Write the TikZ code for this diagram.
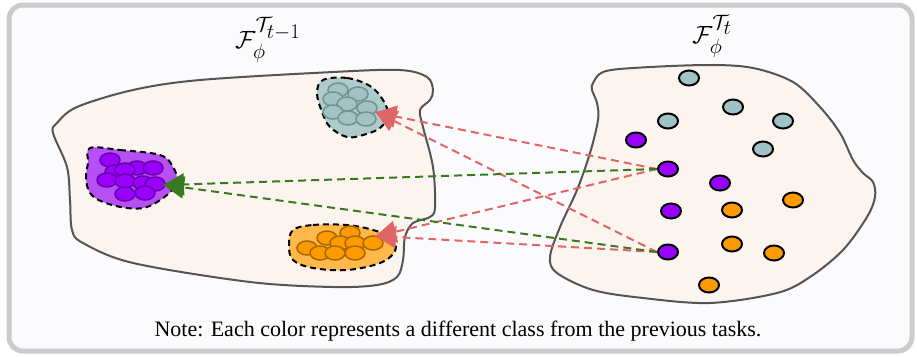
\documentclass[tikz,border=0pt]{standalone}
\usepackage{amsmath}
\usepackage{fontspec}
\setmainfont{Liberation Serif}
\usetikzlibrary{arrows.meta, shapes.geometric}

\definecolor{framegray}{HTML}{CCCCCC}
\definecolor{framefill}{HTML}{FBFBFD}
\definecolor{blobfill}{HTML}{FCF4EE}
\definecolor{blobline}{HTML}{555555}
\definecolor{cgray}{HTML}{A2C3C6}
\definecolor{cgrayedge}{HTML}{729294}
\definecolor{cgrayhull}{HTML}{AECBCC}
\definecolor{cpurple}{HTML}{9A00FF}
\definecolor{cpurpleedge}{HTML}{6A00AA}
\definecolor{cpurplehull}{HTML}{B650F5}
\definecolor{corange}{HTML}{FF9A00}
\definecolor{corangeedge}{HTML}{A86800}
\definecolor{corangehull}{HTML}{FFB84A}
\definecolor{arrred}{HTML}{E06666}
\definecolor{arrgreen}{HTML}{3A7A1E}

\tikzset{
  frame/.style = {draw=framegray, fill=framefill, line width=5pt, rounded corners=14pt},
  blob/.style = {draw=blobline, fill=blobfill, line width=2pt},
  hull/.style = {draw=black, line width=2pt, dash pattern=on 6pt off 4pt},
  dot/.style = {ellipse, inner sep=0pt, minimum width=20pt, minimum height=15pt, line width=2pt, draw=black},
  gdot/.style = {dot, fill=cgray},
  pdot/.style = {dot, fill=cpurple},
  odot/.style = {dot, fill=corange},
  cdot/.style = {ellipse, inner sep=0pt, minimum width=20pt, minimum height=14pt, line width=1.5pt},
  redarr/.style = {draw=arrred, line width=2pt, dash pattern=on 8pt off 5pt,
    -{Triangle[length=21pt, width=22pt, sep=-3pt]}},
  greenarr/.style = {draw=arrgreen, line width=2pt, dash pattern=on 8pt off 5pt,
    -{Triangle[length=21pt, width=22pt, sep=-3pt]}},
  title/.style = {font=\fontsize{28}{32}\selectfont}
}

\begin{document}
\begin{tikzpicture}[x=1pt, y=-1pt]
\useasboundingbox (0,0) rectangle (917,356);
\draw [frame] (9,5) rectangle (912,351);

\node [title] (oldspace) at (268,40) {$\mathcal{F}_{\phi}^{\mathcal{T}_{\scriptstyle t-1}}$};
\node [title] (newspace) at (712,36) {$\mathcal{F}_{\phi}^{\mathcal{T}_{\scriptstyle t}}$};

\draw [blob] plot [smooth cycle, tension=0.55] coordinates {
  (53,133) (67,167) (70,200) (72,230) (83,243) (133,263) (250,282) (333,287)
  (377,285) (397,277) (403,260) (405,237) (413,223) (430,217) (435,207)
  (433,167) (423,127) (420,110) (430,100) (433,90) (427,77) (400,70)
  (333,72) (200,80) (133,90) (77,107) (57,123)};
\draw [blob] plot [smooth cycle, tension=0.55] coordinates {
  (593,83) (603,72) (633,68) (707,65) (753,68) (793,82) (820,107) (840,133)
  (853,160) (863,173) (873,182) (875,197) (867,217) (843,250) (810,277)
  (777,293) (710,303) (643,298) (593,290) (557,273) (550,257) (560,227)
  (577,190) (590,153) (598,120) (597,103) (592,90)};

\draw [hull, fill=cgrayhull] plot [smooth cycle, tension=0.6] coordinates {
  (323,80) (347,78) (370,86) (383,100) (388,115) (380,128) (363,135)
  (347,137) (330,127) (322,112) (317,93)};
\foreach \p in {(338,90),(358,94),(333,99),(347,104),(367,108),(333,112),(348,118),(366,119)}
  \node [cdot, draw=cgrayedge, fill=cgray] at \p {};

\draw [hull, fill=cpurplehull] plot [smooth cycle, tension=0.6] coordinates {
  (90,148) (120,150) (160,155) (173,167) (177,182) (167,195) (147,207)
  (127,208) (103,202) (90,193) (86,178) (88,163)};
\foreach \p in {(110,160),(115,172),(107,180),(137,168),(125,170),(153,168),(125,181),(143,183),(155,184),(125,194),(145,193)}
  \node [cdot, draw=cpurpleedge, fill=cpurple] at \p {};

\draw [hull, fill=corangehull] plot [smooth cycle, tension=0.6] coordinates {
  (293,230) (313,225) (347,225) (373,230) (392,238) (395,251) (380,263)
  (347,270) (313,268) (293,260) (289,245)};
\foreach \p in {(327,238),(350,233),(307,248),(340,243),(355,243),(320,253),(335,253),(355,253),(373,243)}
  \node [cdot, draw=corangeedge, fill=corange] at \p {};

\coordinate (tipgray) at (378,113);
\coordinate (tippurple) at (166,185);
\coordinate (tiporange) at (378,236);

\node [gdot] (g1) at (689,78) {};
\node [gdot] (g2) at (733,107) {};
\node [gdot] (g3) at (668,121) {};
\node [gdot] (g4) at (783,121) {};
\node [gdot] (g5) at (763,149) {};
\node [pdot] (p1) at (636,140) {};
\node [pdot] (p2) at (668,169) {};
\node [pdot] (p3) at (720,183) {};
\node [pdot] (p4) at (671,211) {};
\node [pdot] (p5) at (668,252) {};
\node [odot] (o1) at (793,200) {};
\node [odot] (o2) at (732,210) {};
\node [odot] (o3) at (732,244) {};
\node [odot] (o4) at (774,253) {};
\node [odot] (o5) at (709,285) {};

\draw [redarr] (p2.west) -- (tipgray);
\draw [redarr] (p5.west) -- (tipgray);
\draw [redarr] (p2.west) -- (tiporange);
\draw [redarr] (p5.west) -- (tiporange);
\draw [greenarr] (p2.west) -- (tippurple);
\draw [greenarr] (p5.west) -- (tippurple);

\node [font=\fontsize{22}{26}\selectfont] (note) at (458,331) {Note: Each color represents a different class from the previous tasks.};
\end{tikzpicture}
\end{document}
